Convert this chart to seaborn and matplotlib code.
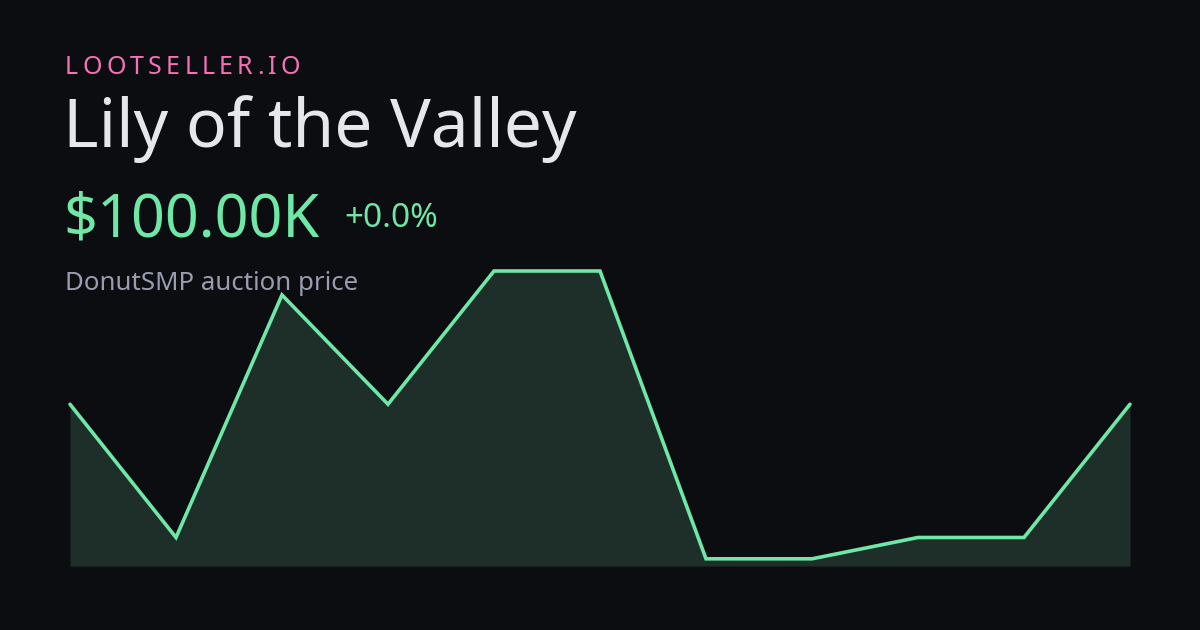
import numpy as np
import pandas as pd
import matplotlib
matplotlib.use('Agg')
import matplotlib.pyplot as plt
import seaborn as sns

# данные
days = list(range(11))
prices_k = [100, 90, 108.2, 100, 110, 110, 88.4, 88.4, 90, 90, 100]
brand = 'LOOTSELLER.IO'
item_name = 'Lily of the Valley'
price_label = '$100.00K'
change_label = '+0.0%'
subtitle = 'DonutSMP auction price'

bg = '#0c0d10'
mint = '#6ee7a7'
fill_col = '#1e2f2a'
pink = '#f472b6'

sns.set_theme(style='dark', rc={'figure.facecolor': bg, 'axes.facecolor': bg})
plt.rcParams['font.family'] = ['Noto Sans', 'DejaVu Sans']

df = pd.DataFrame({'day': days, 'price': prices_k})

fig = plt.figure(figsize=(12, 6.3), dpi=100)
ax = fig.add_axes([70 / 1200, (630 - 566) / 630, 1060 / 1200, (566 - 271) / 630])
ax.set_facecolor(bg)

lo, hi = min(prices_k), max(prices_k)
base = lo - 0.025 * (hi - lo)
ax.fill_between(df['day'], df['price'], base, color=fill_col, lw=0, zorder=1)
sns.lineplot(data=df, x='day', y='price', ax=ax, color=mint, linewidth=2.6, zorder=2)
for l in ax.lines:
    l.set_clip_on(False)
    l.set_solid_joinstyle('miter')
ax.set_xlim(days[0], days[-1])
ax.set_ylim(base, hi)
ax.set_axis_off()

# тексты
def px(x, y):
    return x / 1200, 1 - y / 630

# бренд с разрядкой букв
r = fig.canvas.get_renderer()
widths = []
for ch in brand:
    t = fig.text(0, 0, ch, fontsize=18)
    widths.append(t.get_window_extent(r).width)
    t.remove()
span = 300 - 65
track = (span - sum(widths)) / (len(brand) - 1)
x = 65
for ch, w in zip(brand, widths):
    fig.text(*px(x, 74), ch, fontsize=18, color=pink, va='baseline')
    x += w + track

fig.text(*px(63, 147), item_name, fontsize=48.8, color='#e6e7ec', va='baseline')
fig.text(*px(63, 236), price_label, fontsize=42.8, color=mint, va='baseline')
fig.text(*px(344, 227), change_label, fontsize=24, color=mint, va='baseline')
fig.text(*px(65, 290), subtitle, fontsize=18.6, color='#9a9caf', va='baseline')

fig.savefig('out.png', dpi=100, facecolor=bg)
